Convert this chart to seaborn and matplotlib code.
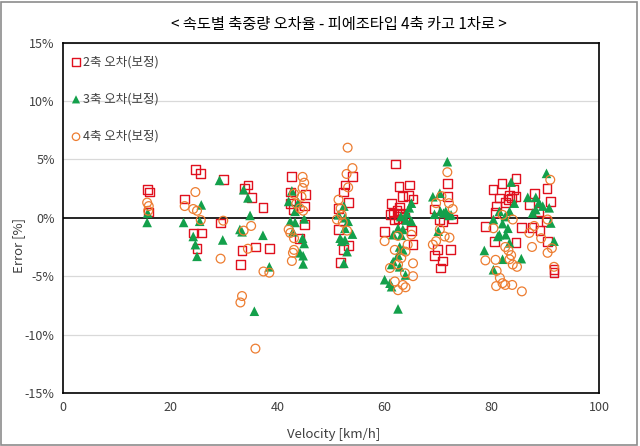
import matplotlib
matplotlib.use("Agg")
import matplotlib.pyplot as plt
import pandas as pd
import seaborn as sns
from matplotlib.patches import Rectangle
from matplotlib.ticker import PercentFormatter, MultipleLocator

# velocity [km/h], error [%]
axle2_v = [15.7, 16.1, 15.9, 22.7, 24.7, 25.7, 24.3, 25.8, 25.0, 29.9, 29.4,
           33.8, 34.5, 35.1, 33.4, 35.9, 33.1, 37.3, 38.5,
           42.7, 42.4, 45.2, 42.4, 45.0, 42.9, 45.0, 44.1,
           54.0, 52.6, 52.4, 53.2, 51.4, 51.4, 53.2, 52.4, 51.7,
           62.1, 62.7, 64.6, 63.4, 64.4, 65.3, 61.3, 62.8, 61.6, 62.8, 61.0, 63.8,
           61.9, 63.4, 60.0, 65.0, 65.3, 62.3, 63.0, 62.5,
           71.8, 71.8, 69.3, 70.3, 72.6, 70.9, 69.9, 72.3, 69.3, 70.8, 70.4,
           84.5, 81.9, 84.1, 80.2, 81.4, 83.0, 83.6, 84.5, 80.8, 80.7, 78.8, 85.6,
           80.5, 84.5, 82.6, 83.3,
           90.3, 87.9, 90.9, 87.0, 88.8, 90.1, 87.5, 89.0, 90.4, 91.6, 91.6]
axle2_e = [2.4, 2.2, 0.5, 1.6, 4.1, 3.8, -1.3, -1.3, -2.6, 3.3, -0.45,
           2.5, 2.8, 1.75, -2.8, -2.5, -4.0, 0.9, -2.6,
           3.5, 2.2, 2.0, 1.25, 1.0, 0.7, -0.6, -1.75,
           3.55, 2.8, 2.2, 1.3, 0.8, -1.0, -2.4, -2.75, -3.8,
           4.6, 2.7, 2.8, 1.8, 1.9, 1.6, 1.2, 0.9, 0.4, 0.25, 0.25, 0.0,
           -0.2, -0.6, -1.2, -1.1, -2.3, 0.6, 0.4, -0.1,
           2.9, 1.85, 0.75, -0.15, -0.1, -0.3, -2.75, -2.7, -3.25, -3.7, -4.3,
           3.35, 2.9, 2.45, 2.45, 1.7, 1.55, 1.7, 1.85, 1.0, 0.45, -0.75, -0.85,
           -2.0, -2.15, 1.3, 1.9,
           2.5, 2.05, 1.4, 1.1, 0.55, -0.3, -0.85, -1.1, -2.0, -4.45, -4.7]

axle3_v = [15.8, 15.7, 22.5, 25.8, 25.5, 24.3, 24.7, 25.0, 29.2, 29.8,
           33.7, 34.5, 34.9, 33.0, 33.4, 37.3, 35.7, 38.5,
           42.7, 42.1, 43.9, 43.3, 45.0, 42.4, 43.3, 42.9, 44.7, 45.0, 44.2, 44.8, 44.8,
           52.4, 51.4, 52.6, 53.2, 52.6, 54.0, 51.7, 52.6, 52.0, 53.0, 52.4,
           65.0, 64.6, 64.1, 65.0, 62.5, 63.4, 61.6, 63.1, 62.8, 63.4, 62.5, 61.6,
           62.8, 61.3, 63.9, 60.0, 61.0, 61.3, 62.5, 64.0, 63.0,
           71.7, 69.0, 70.3, 69.3, 70.4, 71.4, 72.4, 70.0, 71.0, 72.0,
           83.6, 84.2, 81.4, 83.3, 80.3, 83.0, 81.4, 82.6, 81.1, 83.3, 78.6, 82.0,
           85.5, 80.3, 82.5, 82.0,
           90.2, 86.7, 88.2, 88.8, 90.7, 87.6, 88.2, 91.0, 91.6, 89.5]
axle3_e = [0.4, -0.4, -0.4, 1.1, -0.3, -1.6, -2.3, -3.3, 3.2, -1.9,
           2.4, 1.7, 0.2, -1.0, -1.2, -1.5, -8.0, -4.2,
           2.3, 1.4, 1.3, 0.55, -0.1, -0.3, -0.4, -1.2, -1.75, -2.2, -3.0, -3.25, -3.95,
           1.0, 0.25, 0.0, -0.3, -0.9, -1.4, -1.75, -1.9, -2.0, -2.9, -3.9,
           1.25, 0.85, 0.4, -0.3, -0.9, -1.0, -1.45, -1.5, -2.5, -2.75, -3.2, -3.75,
           -4.2, -4.0, -4.9, -5.3, -5.6, -5.9, -7.8, -0.2, 0.1,
           4.8, 1.8, 2.1, 0.3, 0.55, 0.55, 0.25, -1.15, 0.4, 0.2,
           3.05, 1.25, 0.55, 0.55, -0.15, -0.9, -1.45, -1.45, -1.6, -2.15, -2.8, -3.55,
           -3.5, -4.45, 0.1, -0.5,
           3.8, 1.75, 1.75, 1.3, 0.85, 0.4, 0.7, -0.45, -2.0, 1.0]

axle4_v = [15.7, 16.0, 15.9, 22.7, 24.7, 24.3, 25.0, 25.7, 29.9, 29.4,
           35.1, 33.7, 34.5, 33.4, 33.1, 35.9, 37.4, 38.5,
           44.7, 45.0, 44.7, 43.1, 44.2, 44.8, 42.1, 42.4, 43.1, 43.1, 42.9, 42.7, 44.5, 43.5,
           53.1, 54.0, 52.9, 53.2, 51.4, 52.0, 51.1, 52.2, 53.0, 51.8,
           62.5, 60.0, 65.0, 61.9, 63.9, 63.1, 65.3, 61.0, 63.8, 65.3, 61.9, 63.4,
           63.9, 62.5, 64.3, 62.5,
           71.7, 70.6, 69.6, 72.0, 72.7, 70.3, 71.2, 72.1, 69.6, 69.0,
           82.0, 83.9, 80.3, 82.5, 83.1, 83.6, 78.8, 80.7, 83.3, 83.9, 84.7, 80.9,
           81.5, 82.0, 82.5, 80.8, 83.8, 85.6,
           90.9, 90.4, 87.9, 87.0, 89.2, 91.2, 87.5, 90.4, 91.6]
axle4_e = [1.3, 1.0, 0.6, 1.0, 2.2, 0.75, 0.6, -0.2, -0.25, -3.5,
           -0.7, -1.1, -2.65, -6.7, -7.25, -11.2, -4.6, -4.7,
           3.5, 3.0, 2.55, 2.05, 0.8, 0.6, -1.0, -1.3, -1.75, -2.75, -3.0, -3.7, 1.8, 1.2,
           6.0, 4.25, 3.75, 2.6, 1.55, 0.25, -0.15, -0.4, -1.1, 0.8,
           -1.55, -2.0, -1.45, -2.75, -2.9, -3.45, -3.9, -4.3, -4.75, -5.0, -5.45, -5.75,
           -5.95, -6.2, -2.3, -4.0,
           3.9, 1.85, 1.25, 1.25, 0.75, -1.0, -1.6, -1.7, -2.0, -2.3,
           0.25, -0.15, -0.9, -2.5, -2.8, -3.2, -3.65, -3.6, -3.55, -4.0, -4.2, -4.55,
           -5.15, -5.6, -5.75, -5.85, -5.75, -6.3,
           3.25, -0.15, -0.7, -1.3, -1.75, -2.6, -2.5, -3.0, -4.2]

labels = ["2축 오차(보정)", "3축 오차(보정)", "4축 오차(보정)"]

df2 = pd.DataFrame({"v": axle2_v, "e": axle2_e})
df3 = pd.DataFrame({"v": axle3_v, "e": axle3_e})
df4 = pd.DataFrame({"v": axle4_v, "e": axle4_e})

sns.set_style("white")
plt.rcParams["font.family"] = ["Noto Sans CJK KR", "DejaVu Sans"]
plt.rcParams["axes.unicode_minus"] = False

fig = plt.figure(figsize=(6.4, 4.46), dpi=100)
ax = fig.add_axes([0.0984, 0.1188, 0.8376, 0.7859])

for y in [-15, -10, -5, 5, 10, 15]:
    ax.axhline(y, color="#d9d9d9", lw=0.9, zorder=0)
ax.axhline(0, color="black", lw=1.2, zorder=1)

sns.scatterplot(data=df2, x="v", y="e", ax=ax, marker="s", s=40,
                facecolor="none", edgecolor="#e0101e", linewidth=1.0,
                label=labels[0], zorder=3)
sns.scatterplot(data=df3, x="v", y="e", ax=ax, marker="^", s=48,
                color="#13a04b", edgecolor="none", linewidth=0,
                label=labels[1], zorder=4)
sns.scatterplot(data=df4, x="v", y="e", ax=ax, marker="o", s=40,
                facecolor="none", edgecolor="#ed7d31", linewidth=0.9,
                label=labels[2], zorder=5)

ax.set_xlim(0, 100)
ax.set_ylim(-15, 15)
ax.xaxis.set_major_locator(MultipleLocator(20))
ax.yaxis.set_major_locator(MultipleLocator(5))
ax.yaxis.set_major_formatter(PercentFormatter(decimals=0))
ax.tick_params(labelsize=9, colors="#404040", length=0, pad=6)
for sp in ax.spines.values():
    sp.set_color("black")
    sp.set_linewidth(1.2)

ax.set_xlabel("Velocity [km/h]", fontsize=9.5, color="#404040")
ax.set_ylabel("Error [%]", fontsize=9.5, color="#404040")
ax.xaxis.set_label_coords(0.505, -0.1)
ax.yaxis.set_label_coords(-0.07, 0.42)
fig.text(0.53, 0.944, "< 속도별 축중량 오차율 - 피에조타입 4축 카고 1차로 >",
         ha="center", va="center", fontsize=11, color="black")

leg = ax.legend(loc="upper left", bbox_to_anchor=(-0.013, 0.985), frameon=False,
                fontsize=9, handletextpad=-0.45, labelspacing=1.95,
                borderaxespad=0.2, markerscale=0.85)
for t in leg.get_texts():
    t.set_color("#404040")

fig.patches.append(Rectangle((0.002, 0.002), 0.994, 0.994, transform=fig.transFigure,
                             fill=False, edgecolor="#8c8c8c", lw=1.2))

plt.savefig("out.png", dpi=100)
